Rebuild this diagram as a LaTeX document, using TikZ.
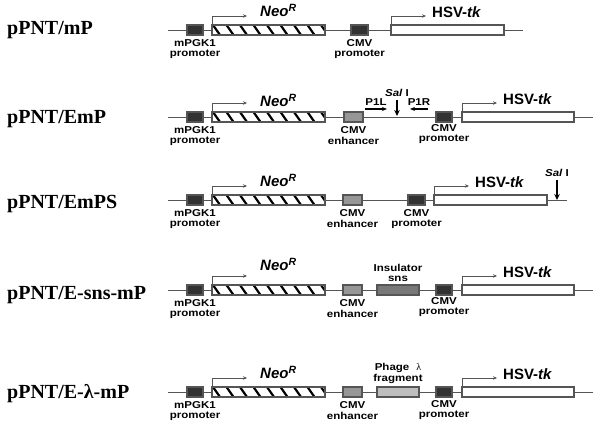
\documentclass[tikz,border=0pt]{standalone}
\usepackage{fontspec}
\setmainfont{Liberation Serif}
\setsansfont{Liberation Sans}
\newfontfamily\lblfont[FakeStretch=1.15]{Liberation Sans}
\usetikzlibrary{arrows.meta,positioning}
\definecolor{linegray}{RGB}{85,85,85}
\definecolor{boxdark}{RGB}{50,50,50}
\definecolor{enhgray}{RGB}{150,150,150}
\definecolor{snsgray}{RGB}{120,120,120}
\definecolor{phagegray}{RGB}{190,190,190}
\tikzset{
  backbone/.style={draw=linegray, line width=0.9pt},
  elem/.style={draw=linegray, line width=1.2pt, minimum height=10pt, inner sep=0pt, outer sep=0pt},
  darkbox/.style={elem, fill=boxdark},
  enhbox/.style={elem, fill=enhgray},
  genebox/.style={elem, fill=white},
  lbl/.style={font=\lblfont\bfseries\fontsize{10}{10}\selectfont, align=center, inner sep=0pt},
  gene/.style={font=\sffamily\bfseries\fontsize{15}{15}\selectfont, inner sep=0pt},
  cname/.style={font=\rmfamily\bfseries\fontsize{20}{20}\selectfont, anchor=base west, inner sep=0pt},
  txarrow/.style={draw=linegray, line width=0.6pt, -{Stealth[length=4pt,width=3.5pt]}},
  primer/.style={draw=black, line width=1.1pt, -{Stealth[length=5pt,width=4pt]}},
  site/.style={draw=black, line width=1.6pt, -{Stealth[length=6pt,width=5.5pt]}}
}

\begin{document}
\begin{tikzpicture}[x=1pt,y=-1pt]
\useasboundingbox (0,0) rectangle (600,427);

% construct names
\node[cname] (n1) at (7,35) {pPNT/mP};
\node[cname] (n2) at (7,124) {pPNT/EmP};
\node[cname] (n3) at (7,209) {pPNT/EmPS};
\node[cname] (n4) at (7,300) {pPNT/E-sns-mP};
\node[cname] (n5) at (7,399) {pPNT/E-λ-mP};

% backbone, mPGK1 promoter and Neo cassette
\foreach \r/\y/\e/\d in {1/30/523/13, 2/117/593/10, 3/200/567/13, 4/290/593/19, 5/392/593/13}{
  \coordinate (l\r) at (168,\y);
  \coordinate (r\r) at (\e,\y);
  \draw[backbone] (l\r) -- (r\r);
  \node[darkbox, minimum width=16pt] (pgk\r) at (195,\y) {};
  \node[lbl, below=4pt of pgk\r] (pgklbl\r) {mPGK1\\promoter};
  \node[genebox, minimum width=113pt] (neo\r) at (268.5,\y) {};
  \begin{scope}
    \clip (neo\r.south west) rectangle (neo\r.north east);
    \foreach \s in {0,...,8}
      \draw[line width=2.2pt] ([xshift=\s*13.5pt+1pt]neo\r.north west) -- ++(7,10);
  \end{scope}
  \draw[draw=linegray, line width=1.2pt] (neo\r.south west) rectangle (neo\r.north east);
  \draw[txarrow] (neo\r.north west) -- ++(0,-9) -- ++(35,0);
  \node[gene, anchor=base west] (neolbl\r) at ([xshift=48pt,yshift=\d pt]neo\r.west) {\itshape Neo\textsuperscript{R}};
}

% pPNT/mP
\node[darkbox, minimum width=17pt] (cmv1) at (359.5,30) {};
\node[lbl, below=4pt of cmv1] (cmvlbl1) {CMV\\promoter};
\node[genebox, minimum width=113pt] (tk1) at (447.5,30) {};

% pPNT/EmP
\node[enhbox, minimum width=19pt] (enh2) at (353.5,117) {};
\node[lbl, below=4pt of enh2] (enhlbl2) {CMV\\[1pt]enhancer};
\coordinate (sal2) at (397,117);
\draw[primer] ([xshift=2pt,yshift=3pt]enh2.north east) -- node[lbl, above=3pt] (p1l) {P1L} ++(22,0);
\draw[site] ([yshift=17pt]sal2) -- ([yshift=1pt]sal2);
\node[lbl, above=3pt] (sallbl2) at ([yshift=17pt]sal2) {\textit{Sal} I};
\node[darkbox, minimum width=16pt] (cmv2) at (444,117) {};
\draw[primer] ([xshift=-8pt,yshift=3pt]cmv2.north west) -- node[lbl, above=3pt] (p1r) {P1R} ++(-18,0);
\node[lbl, below=2pt of cmv2] (cmvlbl2) {CMV\\promoter};
\node[genebox, minimum width=112pt] (tk2) at (518,117) {};

% pPNT/EmPS
\node[enhbox, minimum width=19pt] (enh3) at (352.5,200) {};
\node[lbl, below=4pt of enh3] (enhlbl3) {CMV\\[1pt]enhancer};
\node[darkbox, minimum width=17pt] (cmv3) at (416.5,200) {};
\node[lbl, below=4pt of cmv3] (cmvlbl3) {CMV\\promoter};
\node[genebox, minimum width=113pt] (tk3) at (490.5,200) {};
\coordinate (sal3) at (557,200);
\draw[site] ([yshift=20pt]sal3) -- (sal3);
\node[lbl, above=3pt] (sallbl3) at ([yshift=20pt]sal3) {\textit{Sal} I};

% pPNT/E-sns-mP
\node[enhbox, minimum width=19pt] (enh4) at (352.5,290) {};
\node[lbl, below=4pt of enh4] (enhlbl4) {CMV\\[1pt]enhancer};
\node[elem, fill=snsgray, minimum width=42pt] (ins4) at (398,290) {};
\node[lbl, above=3pt of ins4] (inslbl4) {Insulator\\sns};
\node[darkbox, minimum width=16pt] (cmv4) at (444,290) {};
\node[lbl, below=2pt of cmv4] (cmvlbl4) {CMV\\promoter};
\node[genebox, minimum width=112pt] (tk4) at (518,290) {};

% pPNT/E-lambda-mP
\node[enhbox, minimum width=19pt] (enh5) at (352.5,392) {};
\node[lbl, below=4pt of enh5] (enhlbl5) {CMV\\[1pt]enhancer};
\node[elem, fill=phagegray, minimum width=42pt] (lam5) at (398,392) {};
\node[lbl, above=3pt of lam5] (lamlbl5) {Phage\hspace{7pt}{\rmfamily\mdseries λ}\\[1pt]fragment};
\node[darkbox, minimum width=16pt] (cmv5) at (444,392) {};
\node[lbl, below=3pt of cmv5] (cmvlbl5) {CMV\\promoter};
\node[genebox, minimum width=112pt] (tk5) at (518,392) {};

% HSV-tk transcription start and label
\foreach \r in {1,...,5}{
  \draw[txarrow] (tk\r.north west) -- ++(0,-9) -- ++(35,0);
  \node[gene, anchor=base west] (tklbl\r) at ([xshift=41pt,yshift=12pt]tk\r.west) {HSV-\textit{tk}};
}
\end{tikzpicture}
\end{document}
